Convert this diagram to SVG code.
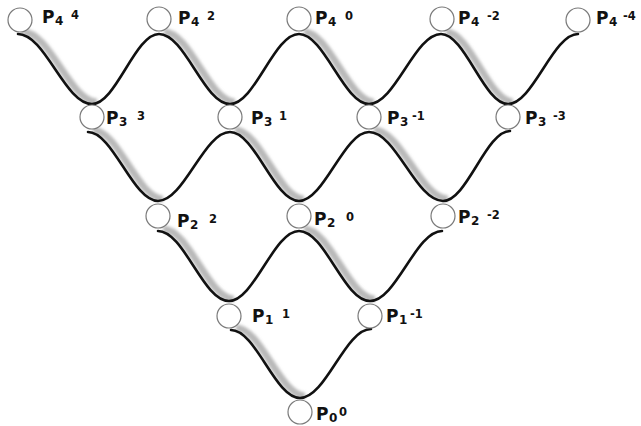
<svg xmlns="http://www.w3.org/2000/svg" width="641" height="426" viewBox="0 0 641 426">
<style>
.node circle{fill:#fff;stroke:#7a7a7a;stroke-width:1.2}
.lbl{font-family:"DejaVu Sans",Verdana,sans-serif;font-weight:bold;fill:#111}
.p{font-size:17px}
.sub{font-size:12px}
.sup{font-size:11.5px}
.wire{fill:none;stroke:#111;stroke-width:2.6;stroke-linecap:round}
.shadow{fill:none;stroke:#8a8a8a;stroke-width:7;stroke-opacity:.6;filter:url(#blur)}
</style>
<defs>
<filter id="blur" x="-20%" y="-20%" width="140%" height="140%"><feGaussianBlur stdDeviation="1.6"/></filter>
</defs>
<rect width="641" height="426" fill="#fff"/>
<g id="connectors">
<g class="shadows" transform="translate(5,-2)">
<path class="shadow" d="M18 34C45 34 65 104 92 104"/>
<path class="shadow" d="M159 34C185 34 204 104 230 104"/>
<path class="shadow" d="M299 34C324 34 344 104 369 104"/>
<path class="shadow" d="M441 34C465 34 484 104 508 104"/>
<path class="shadow" d="M88 132C113 132 133 201 158 201"/>
<path class="shadow" d="M230 132C255 132 274 201 299 201"/>
<path class="shadow" d="M369 132C396 132 416 201 443 201"/>
<path class="shadow" d="M158 231C184 231 203 301 229 301"/>
<path class="shadow" d="M299 231C325 231 344 301 370 301"/>
<path class="shadow" d="M231 330C256 330 275 398 300 398"/>
</g>
<path class="wire" d="M18 34C45 34 65 104 92 104C116 104 135 34 159 34C185 34 204 104 230 104C255 104 274 34 299 34C324 34 344 104 369 104C395 104 415 34 441 34C465 34 484 104 508 104C533 104 553 34 578 34"/>
<path class="wire" d="M88 132C113 132 133 201 158 201C184 201 204 132 230 132C255 132 274 201 299 201C324 201 344 132 369 132C396 132 416 201 443 201C467 201 486 131 510 131"/>
<path class="wire" d="M158 231C184 231 203 301 229 301C254 301 274 231 299 231C325 231 344 301 370 301C396 301 416 231 442 231"/>
<path class="wire" d="M231 330C256 330 275 398 300 398C326 398 345 329 371 329"/>
</g>
<g id="P4_4" class="node"><circle cx="20" cy="20" r="12"/><text class="lbl"><tspan class="p" x="42" y="23">P</tspan><tspan class="sub" x="55" y="25">4</tspan><tspan class="sup" x="71" y="19">4</tspan></text></g>
<g id="P4_2" class="node"><circle cx="159" cy="19" r="12"/><text class="lbl"><tspan class="p" x="178" y="24">P</tspan><tspan class="sub" x="191" y="26">4</tspan><tspan class="sup" x="207" y="20">2</tspan></text></g>
<g id="P4_0" class="node"><circle cx="299" cy="19" r="12"/><text class="lbl"><tspan class="p" x="315" y="24">P</tspan><tspan class="sub" x="328" y="26">4</tspan><tspan class="sup" x="345" y="20">0</tspan></text></g>
<g id="P4_m2" class="node"><circle cx="442" cy="19" r="12"/><text class="lbl"><tspan class="p" x="458" y="24">P</tspan><tspan class="sub" x="471" y="26">4</tspan><tspan class="sup" x="487" y="20">-2</tspan></text></g>
<g id="P4_m4" class="node"><circle cx="578" cy="20" r="12"/><text class="lbl"><tspan class="p" x="596" y="24">P</tspan><tspan class="sub" x="609" y="26">4</tspan><tspan class="sup" x="623" y="20">-4</tspan></text></g>
<g id="P3_3" class="node"><circle cx="92" cy="117" r="12"/><text class="lbl"><tspan class="p" x="106" y="124">P</tspan><tspan class="sub" x="119" y="126">3</tspan><tspan class="sup" x="137" y="120">3</tspan></text></g>
<g id="P3_1" class="node"><circle cx="230" cy="117" r="12"/><text class="lbl"><tspan class="p" x="251" y="124">P</tspan><tspan class="sub" x="264" y="126">3</tspan><tspan class="sup" x="279" y="120">1</tspan></text></g>
<g id="P3_m1" class="node"><circle cx="369" cy="117" r="12"/><text class="lbl"><tspan class="p" x="387" y="124">P</tspan><tspan class="sub" x="400" y="126">3</tspan><tspan class="sup" x="412" y="120">-1</tspan></text></g>
<g id="P3_m3" class="node"><circle cx="508" cy="117" r="12"/><text class="lbl"><tspan class="p" x="525" y="124">P</tspan><tspan class="sub" x="538" y="126">3</tspan><tspan class="sup" x="553" y="120">-3</tspan></text></g>
<g id="P2_2" class="node"><circle cx="158" cy="216" r="12"/><text class="lbl"><tspan class="p" x="177" y="227">P</tspan><tspan class="sub" x="190" y="229">2</tspan><tspan class="sup" x="209" y="223">2</tspan></text></g>
<g id="P2_0" class="node"><circle cx="299" cy="216" r="12"/><text class="lbl"><tspan class="p" x="314" y="225">P</tspan><tspan class="sub" x="327" y="227">2</tspan><tspan class="sup" x="346" y="221">0</tspan></text></g>
<g id="P2_m2" class="node"><circle cx="443" cy="216" r="12"/><text class="lbl"><tspan class="p" x="458" y="223">P</tspan><tspan class="sub" x="471" y="225">2</tspan><tspan class="sup" x="487" y="219">-2</tspan></text></g>
<g id="P1_1" class="node"><circle cx="229" cy="316" r="12"/><text class="lbl"><tspan class="p" x="252" y="322">P</tspan><tspan class="sub" x="265" y="324">1</tspan><tspan class="sup" x="282" y="318">1</tspan></text></g>
<g id="P1_m1" class="node"><circle cx="370" cy="316" r="12"/><text class="lbl"><tspan class="p" x="386" y="322">P</tspan><tspan class="sub" x="399" y="324">1</tspan><tspan class="sup" x="410" y="318">-1</tspan></text></g>
<g id="P0_0" class="node"><circle cx="300" cy="412" r="12"/><text class="lbl"><tspan class="p" x="316" y="420">P</tspan><tspan class="sub" x="329" y="422">0</tspan><tspan class="sup" x="339" y="416">0</tspan></text></g>
</svg>
